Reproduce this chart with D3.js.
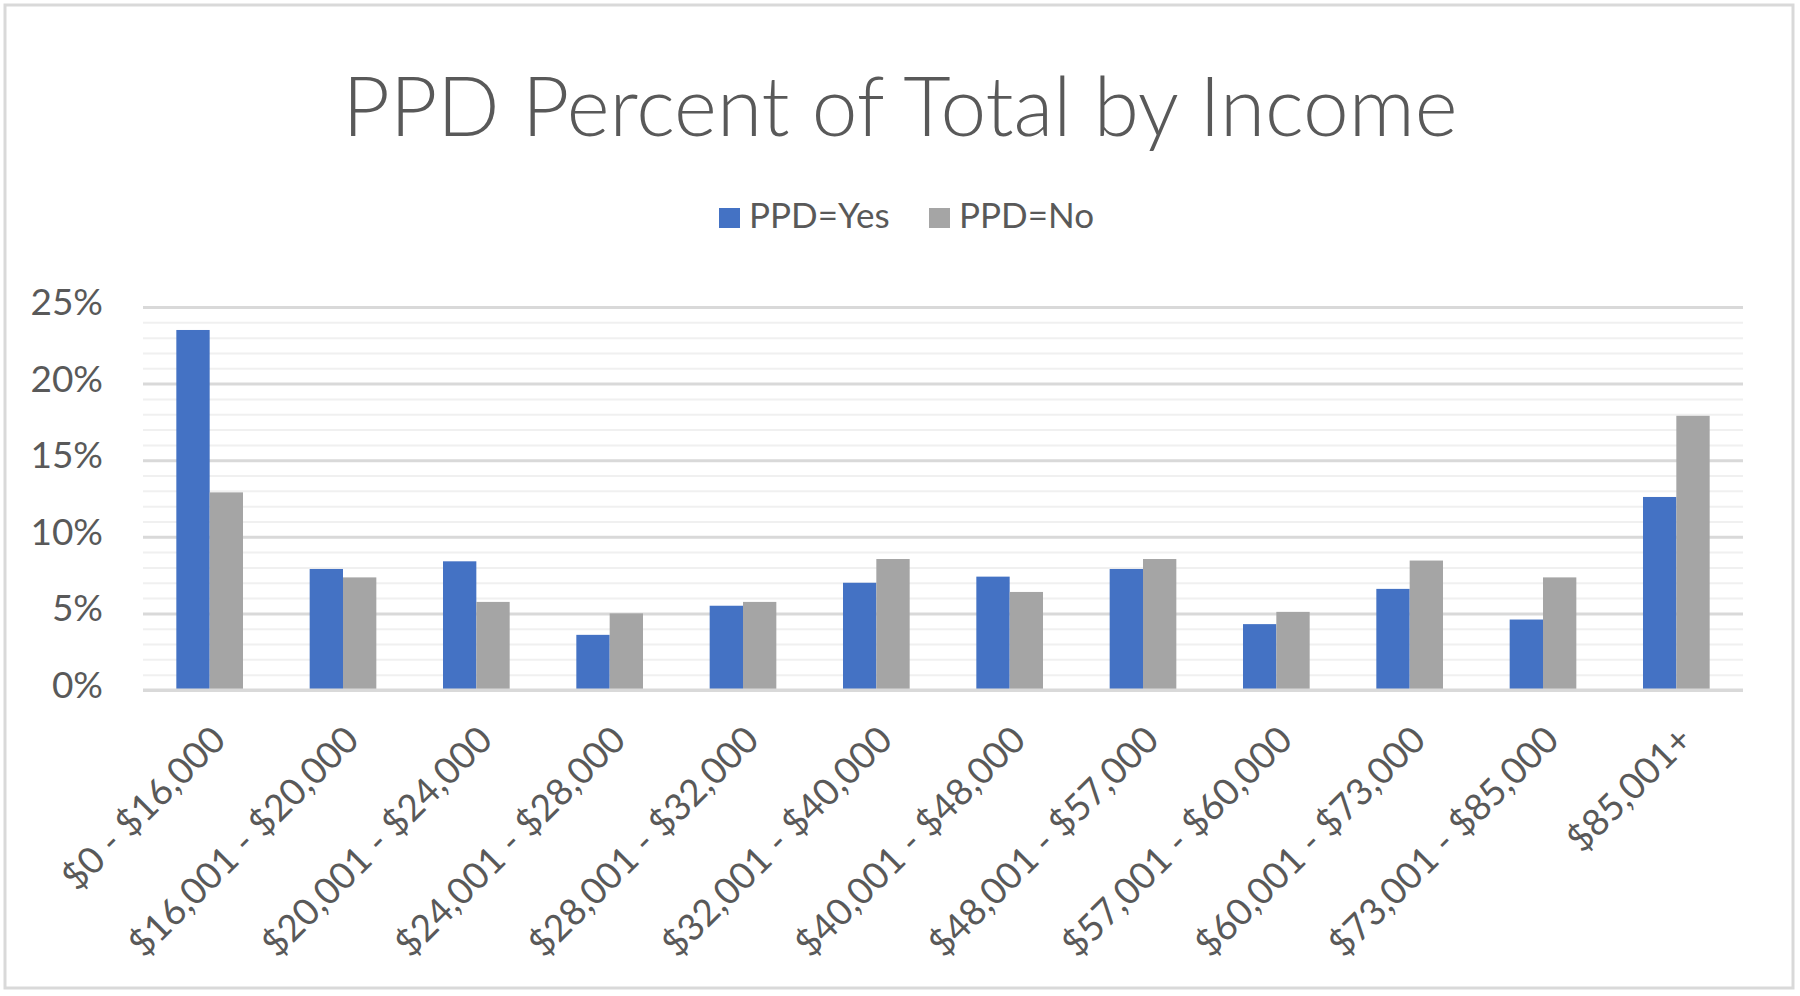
<!DOCTYPE html>
<html>
<head>
<meta charset="utf-8">
<script src="https://cdnjs.cloudflare.com/ajax/libs/d3/7.8.5/d3.min.js"></script>
<style>
  body { margin: 0; background: #fff; }
  text { font-family: Lato, "Open Sans", sans-serif; fill: #595959; }
</style>
</head>
<body>
<div id="chart"></div>
<script>
// Income brackets and the two series (percent of total)
const categories = ['$0 - $16,000', '$16,001 - $20,000', '$20,001 - $24,000', '$24,001 - $28,000',
  '$28,001 - $32,000', '$32,001 - $40,000', '$40,001 - $48,000', '$48,001 - $57,000',
  '$57,001 - $60,000', '$60,001 - $73,000', '$73,001 - $85,000', '$85,001+'];
const seriesNames = ['PPD=Yes', 'PPD=No'];
const ppdYes = [23.5, 7.9, 8.4, 3.6, 5.5, 7.0, 7.4, 7.9, 4.3, 6.6, 4.6, 12.6];
const ppdNo = [12.9, 7.35, 5.75, 5.0, 5.75, 8.55, 6.4, 8.55, 5.1, 8.45, 7.35, 17.9];
const yTicks = [0, 5, 10, 15, 20, 25];
const yMinorTicks = d3.range(0, 26, 1);
const colors = ['#4472C4', '#A5A5A5'];

const width = 1800, height = 996;
const plot = { left: 143, right: 1743, top: 307, bottom: 690 };

const svg = d3.select('#chart').append('svg')
  .attr('width', width)
  .attr('height', height);

// chart border
svg.append('rect')
  .attr('x', 5).attr('y', 5)
  .attr('width', 1788).attr('height', 983)
  .attr('fill', '#fff')
  .attr('stroke', '#d9d9d9')
  .attr('stroke-width', 3);

const x0 = d3.scaleBand().domain(categories).range([plot.left, plot.right]);
const x1 = d3.scaleBand().domain(seriesNames).range([0, x0.bandwidth()]).paddingOuter(1);
const y = d3.scaleLinear().domain([0, 25]).range([plot.bottom, plot.top]);

// minor gridlines
svg.append('g')
  .attr('transform', `translate(${plot.left},0)`)
  .call(d3.axisLeft(y).tickValues(yMinorTicks.filter(d => d % 5 !== 0))
    .tickSize(-(plot.right - plot.left)).tickFormat(''))
  .call(g => g.select('.domain').remove())
  .call(g => g.selectAll('line').attr('stroke', '#f0f0f0').attr('stroke-width', 2));

// major gridlines + labels
svg.append('g')
  .attr('transform', `translate(${plot.left},0)`)
  .call(d3.axisLeft(y).tickValues(yTicks)
    .tickSize(-(plot.right - plot.left)).tickPadding(40).tickFormat(d => d + '%'))
  .call(g => g.select('.domain').remove())
  .call(g => g.selectAll('line').attr('stroke', '#d9d9d9').attr('stroke-width', 3))
  .call(g => g.selectAll('text')
    .style('font-size', '37px')
    .attr('dy', '0.2em'));

// bars
const rows = categories.map((c, i) => ({ cat: c, vals: [ppdYes[i], ppdNo[i]] }));
svg.append('g').selectAll('g')
  .data(rows)
  .join('g')
  .attr('transform', d => `translate(${x0(d.cat)},0)`)
  .selectAll('rect')
  .data(d => d.vals.map((v, j) => ({ key: seriesNames[j], v: v, j: j })))
  .join('rect')
  .attr('x', d => x1(d.key))
  .attr('width', x1.bandwidth())
  .attr('y', d => y(d.v))
  .attr('height', d => y(0) - y(d.v))
  .attr('fill', d => colors[d.j]);

// baseline
svg.append('line')
  .attr('x1', plot.left).attr('x2', plot.right)
  .attr('y1', y(0)).attr('y2', y(0))
  .attr('stroke', '#d9d9d9').attr('stroke-width', 3);

// x axis labels, rotated
svg.append('g')
  .attr('transform', `translate(0,${plot.bottom})`)
  .call(d3.axisBottom(x0).tickSize(0).tickFormat(d => d))
  .call(g => g.select('.domain').remove())
  .call(g => g.selectAll('text')
    .style('font-size', '37px')
    .attr('text-anchor', 'end')
    .attr('x', 0).attr('y', 0).attr('dy', 0)
    .attr('transform', 'translate(18,52) rotate(-45)'));

// title
svg.append('text')
  .attr('x', 900).attr('y', 136)
  .attr('text-anchor', 'middle')
  .style('font-size', '82px')
  .style('font-weight', 300)
  .text('PPD Percent of Total by Income');

// legend
const legendX = [719, 929];
const legend = svg.append('g');
seriesNames.forEach((name, i) => {
  legend.append('rect')
    .attr('x', legendX[i]).attr('y', 208)
    .attr('width', 21).attr('height', 20)
    .attr('fill', colors[i]);
  legend.append('text')
    .attr('x', legendX[i] + 30).attr('y', 228)
    .style('font-size', '35px')
    .text(name);
});
</script>
</body>
</html>
